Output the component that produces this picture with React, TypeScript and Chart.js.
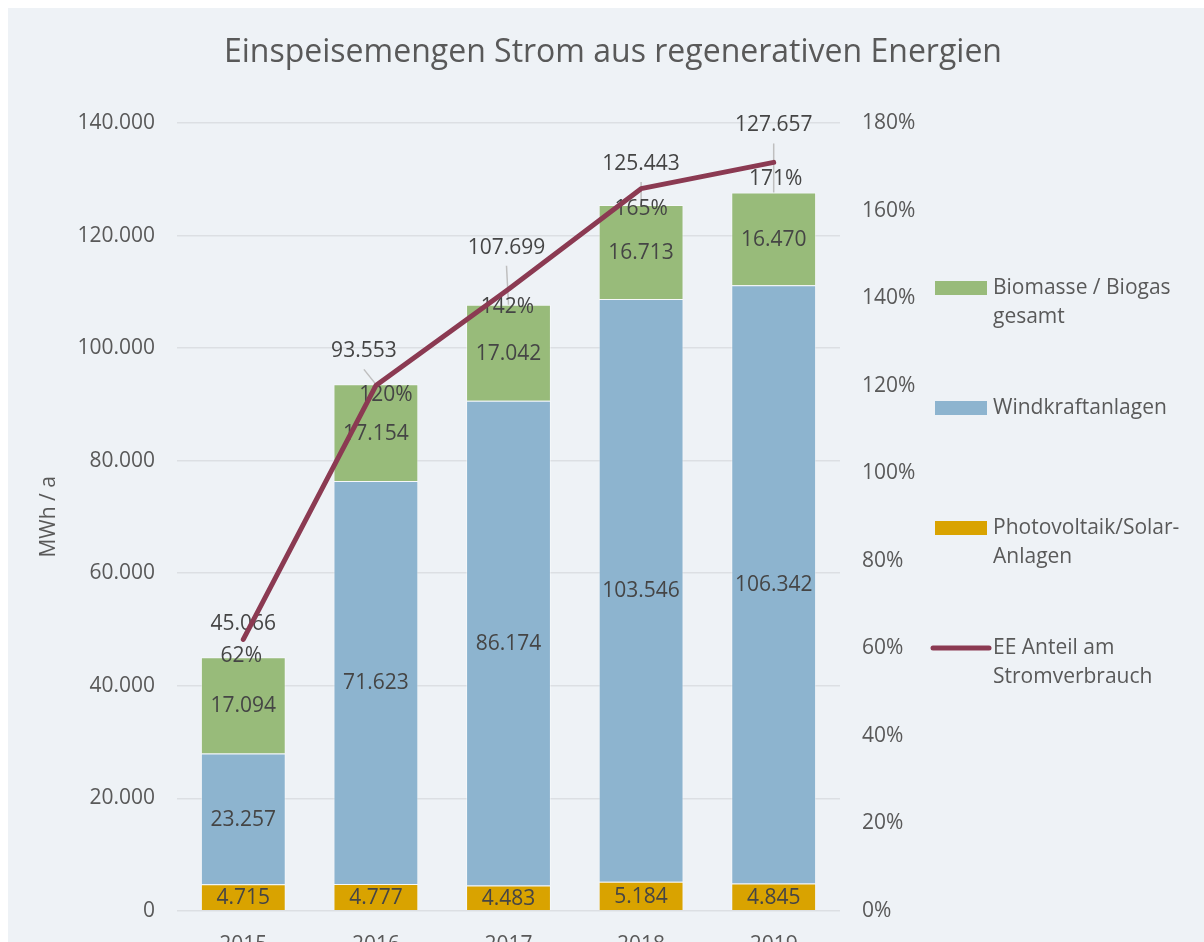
import React, { useEffect, useRef } from 'react';
import { Chart, registerables } from 'chart.js';

Chart.register(...registerables);

// ---- data ----
const years = ['2015', '2016', '2017', '2018', '2019'];
const solar = [4715, 4777, 4483, 5184, 4845];
const wind = [23257, 71623, 86174, 103546, 106342];
const biomass = [17094, 17154, 17042, 16713, 16470];
const totals = [45066, 93553, 107699, 125443, 127657];
const sharePct = [62, 120, 142, 165, 171];

const leftMax = 140000;
const leftStep = 20000;
const rightMax = 180;
const rightStep = 20;

const TITLE = 'Einspeisemengen Strom aus regenerativen Energien';
const Y_TITLE = 'MWh / a';
const legendLabels = [
  ['Biomasse / Biogas', 'gesamt'],
  ['Windkraftanlagen'],
  ['Photovoltaik/Solar-', 'Anlagen'],
  ['EE Anteil am', 'Stromverbrauch'],
];

// ---- style / layout ----
const FONT = '"Open Sans", "Noto Sans", sans-serif';
const BG = '#eef2f6';
const TEXT = '#595959';
const LABEL_TEXT = '#454545';
const GREEN = '#98bb7a';
const BLUE = '#8db4cf';
const GOLD = '#d9a300';
const LINE = '#8b3a52';
const GRID = '#dcdfe3';

// label offsets (px) for total labels relative to the stack top, and for % labels relative to line point
const totalOffsets = [
  { dx: 0, dy: -33, leader: false },
  { dx: -12, dy: -33, leader: true },
  { dx: -2, dy: -57, leader: true },
  { dx: 0, dy: -41, leader: true },
  { dx: 0, dy: -67, leader: true },
];
const pctOffsets = [
  { dx: -2, dy: 17 },
  { dx: 10, dy: 9 },
  { dx: -1, dy: 18 },
  { dx: 0, dy: 20 },
  { dx: 2, dy: 17 },
];

const fmt = (n: number) => String(Math.round(n)).replace(/\B(?=(\d{3})+(?!\d))/g, '.');

const labelsPlugin = {
  id: 'valueLabels',
  beforeDatasetDraw(chart: any, args: any) {
    if (args.index !== 0) return;
    const ctx = chart.ctx;
    ctx.save();
    ctx.font = `21px ${FONT}`;
    ctx.fillStyle = LABEL_TEXT;
    ctx.textAlign = 'center';
    ctx.textBaseline = 'middle';
    [1, 2, 3].forEach((di) => {
      const meta = chart.getDatasetMeta(di);
      meta.data.forEach((bar: any, i: number) => {
        const v = chart.data.datasets[di].data[i];
        ctx.fillText(fmt(v), bar.x, (bar.y + bar.base) / 2 + 1);
      });
    });
    const topMeta = chart.getDatasetMeta(3);
    topMeta.data.forEach((bar: any, i: number) => {
      const o = totalOffsets[i];
      const lx = bar.x + o.dx;
      const ly = bar.y + o.dy;
      if (o.leader) {
        ctx.save();
        ctx.strokeStyle = '#bfbfbf';
        ctx.lineWidth = 1.5;
        ctx.beginPath();
        ctx.moveTo(lx, ly + 18);
        ctx.lineTo(bar.x, bar.y);
        ctx.stroke();
        ctx.restore();
      }
      ctx.fillText(fmt(totals[i]), lx, ly);
    });
    const lineMeta = chart.getDatasetMeta(0);
    lineMeta.data.forEach((pt: any, i: number) => {
      const o = pctOffsets[i];
      ctx.fillText(`${sharePct[i]}%`, pt.x + o.dx, pt.y + o.dy);
    });
    ctx.restore();
  },
};

const titleAndLegendPlugin = {
  id: 'titleAndLegend',
  afterDraw(chart: any) {
    const ctx = chart.ctx;
    ctx.save();
    // title
    ctx.font = `32px ${FONT}`;
    ctx.fillStyle = TEXT;
    ctx.textAlign = 'center';
    ctx.textBaseline = 'middle';
    ctx.fillText(TITLE, 605, 45);

    // legend
    const boxX = 927;
    const textX = 985;
    const y0 = 280;
    const step = 120;
    const lineH = 29;
    const colors = [GREEN, BLUE, GOLD];
    ctx.font = `21px ${FONT}`;
    ctx.textAlign = 'left';
    legendLabels.forEach((lines, i) => {
      const cy = y0 + i * step;
      if (i < 3) {
        ctx.fillStyle = colors[i];
        ctx.fillRect(boxX, cy - 7, 52, 14);
      } else {
        ctx.strokeStyle = LINE;
        ctx.lineWidth = 5;
        ctx.lineCap = 'round';
        ctx.beginPath();
        ctx.moveTo(boxX - 2, cy);
        ctx.lineTo(boxX + 54, cy);
        ctx.stroke();
      }
      ctx.fillStyle = TEXT;
      lines.forEach((t, k) => ctx.fillText(t, textX, cy + k * lineH));
    });
    ctx.restore();
  },
};

export default function App() {
  const ref = useRef<HTMLCanvasElement | null>(null);

  useEffect(() => {
    if (!ref.current) return;
    const tickFont = { family: FONT, size: 21 };
    const chart = new Chart(ref.current, {
      type: 'bar',
      data: {
        labels: years,
        datasets: [
          {
            type: 'line',
            label: 'EE Anteil am Stromverbrauch',
            data: sharePct,
            yAxisID: 'y1',
            borderColor: LINE,
            backgroundColor: LINE,
            borderWidth: 5,
            borderCapStyle: 'round',
            borderJoinStyle: 'round',
            pointRadius: 0,
            tension: 0,
            order: 0,
          } as any,
          {
            label: 'Photovoltaik/Solar-Anlagen',
            data: solar,
            backgroundColor: GOLD,
            borderColor: 'rgba(255,255,255,0.45)',
            borderWidth: 1,
            yAxisID: 'y',
            order: 1,
          },
          {
            label: 'Windkraftanlagen',
            data: wind,
            backgroundColor: BLUE,
            borderColor: 'rgba(255,255,255,0.45)',
            borderWidth: 1,
            yAxisID: 'y',
            order: 1,
          },
          {
            label: 'Biomasse / Biogas gesamt',
            data: biomass,
            backgroundColor: GREEN,
            borderColor: 'rgba(255,255,255,0.45)',
            borderWidth: 1,
            yAxisID: 'y',
            order: 1,
          },
        ],
      },
      options: {
        responsive: false,
        animation: false,
        datasets: { bar: { categoryPercentage: 0.8, barPercentage: 0.8 } },
        layout: { padding: { left: 0, right: 264, top: 115, bottom: 21 } },
        plugins: {
          legend: { display: false },
          tooltip: { enabled: false },
          title: { display: false },
        },
        scales: {
          x: {
            stacked: true,
            grid: { display: false, drawTicks: false },
            border: { display: false },
            ticks: { color: TEXT, font: tickFont, padding: 22 },
          },
          y: {
            stacked: true,
            position: 'left',
            min: 0,
            max: leftMax,
            ticks: {
              stepSize: leftStep,
              color: TEXT,
              font: tickFont,
              padding: 22,
              callback: (v: any) => fmt(Number(v)),
            },
            grid: { color: GRID, lineWidth: 1.5, drawTicks: false },
            border: { display: false },
            title: {
              display: true,
              text: Y_TITLE,
              color: TEXT,
              font: tickFont,
              padding: { top: 28, bottom: 0 },
            },
            afterFit: (s: any) => {
              s.width = 169;
            },
          },
          y1: {
            position: 'right',
            min: 0,
            max: rightMax,
            ticks: {
              stepSize: rightStep,
              color: TEXT,
              font: tickFont,
              padding: 22,
              callback: (v: any) => `${v}%`,
            },
            grid: { display: false, drawTicks: false },
            border: { display: false },
            afterFit: (s: any) => {
              s.width = 100;
            },
          },
        },
      } as any,
      plugins: [labelsPlugin, titleAndLegendPlugin],
    });
    return () => chart.destroy();
  }, []);

  return (
    <div
      style={{
        position: 'fixed',
        left: 8,
        top: 8,
        width: 1196,
        height: 934,
        overflow: 'hidden',
        background: BG,
      }}
    >
      <canvas ref={ref} width={1196} height={993} style={{ display: 'block' }} />
    </div>
  );
}
